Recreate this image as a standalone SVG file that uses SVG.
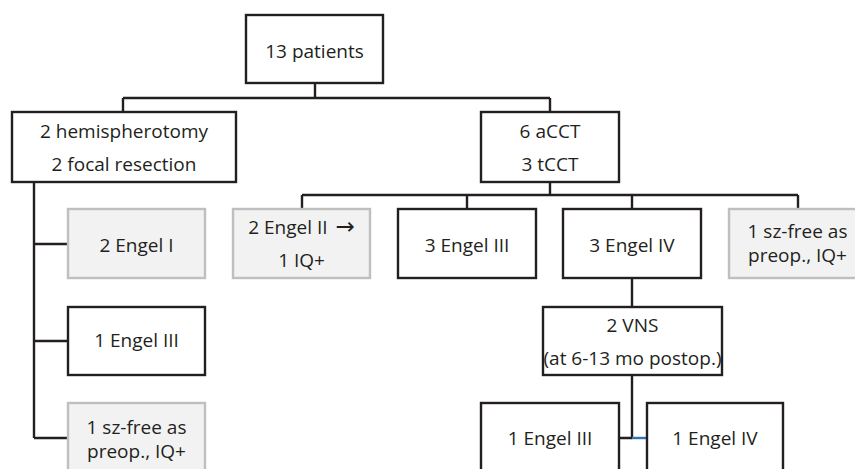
<svg xmlns="http://www.w3.org/2000/svg" width="855" height="469" viewBox="0 0 855 469">
<style>
.b{fill:#fff;stroke:#231f20;stroke-width:2.4}
.g{fill:#f2f2f2;stroke:#bfbfbf;stroke-width:2.4}
text{font-family:"Open Sans","Liberation Sans",sans-serif;font-size:19px;fill:#231f20;text-anchor:middle}
.c{fill:none;stroke:#231f20;stroke-width:2.4}
.ar{font-family:"DejaVu Sans",sans-serif;font-size:23px}
</style>
<rect width="855" height="469" fill="#fff"/>
<g id="connectors">
<path class="c" d="M315 83V98M123 98H550M123 98V112M550 98V112"/>
<path class="c" d="M550 182V195M302 195H798M302 195V209M467 195V209M632 195V209M798 195V209"/>
<path class="c" d="M34 182V438M34 244H68M34 341H68M34 438H68"/>
<path class="c" d="M632 278V307M632 375V438M619 438H632"/>
<path d="M632 438H647" fill="none" stroke="#2e75b6" stroke-width="2.4"/>
</g>
<g id="n-root"><rect class="b" x="246" y="15" width="137" height="68"/><text x="314.5" y="58">13 patients</text></g>
<g id="n-hemi"><rect class="b" x="12" y="112" width="224" height="70"/><text x="124" y="138">2 hemispherotomy</text><text x="124" y="171">2 focal resection</text></g>
<g id="n-cct"><rect class="b" x="481" y="112" width="138" height="70"/><text x="550" y="138">6 aCCT</text><text x="550" y="171">3 tCCT</text></g>
<g id="n-engel1"><rect class="g" x="68" y="209" width="137" height="69"/><text x="136.5" y="252">2 Engel I</text></g>
<g id="n-engel3a"><rect class="b" x="68" y="307" width="137" height="68"/><text x="136.5" y="347">1 Engel III</text></g>
<g id="n-szfree-a"><rect class="g" x="68" y="403" width="137" height="80"/><text x="136.5" y="434">1 sz-free as</text><text x="136.5" y="458">preop., IQ+</text></g>
<g id="n-engel2"><rect class="g" x="233" y="209" width="137" height="69"/><text x="301.5" y="234">2 Engel II <tspan class="ar" dx="3">→</tspan></text><text x="301.5" y="267">1 IQ+</text></g>
<g id="n-engel3b"><rect class="b" x="398" y="209" width="138" height="69"/><text x="467" y="252">3 Engel III</text></g>
<g id="n-engel4"><rect class="b" x="563" y="209" width="138" height="69"/><text x="632" y="252">3 Engel IV</text></g>
<g id="n-szfree-b"><rect class="g" x="729" y="209" width="137" height="69"/><text x="797.5" y="238">1 sz-free as</text><text x="797.5" y="262">preop., IQ+</text></g>
<g id="n-vns"><rect class="b" x="543" y="307" width="179" height="68"/><text x="632.5" y="332">2 VNS</text><text x="632.5" y="365">(at 6-13 mo postop.)</text></g>
<g id="n-engel3c"><rect class="b" x="481" y="403" width="138" height="80"/><text x="550" y="445">1 Engel III</text></g>
<g id="n-engel4b"><rect class="b" x="647" y="403" width="136" height="80"/><text x="715" y="445">1 Engel IV</text></g>
</svg>
